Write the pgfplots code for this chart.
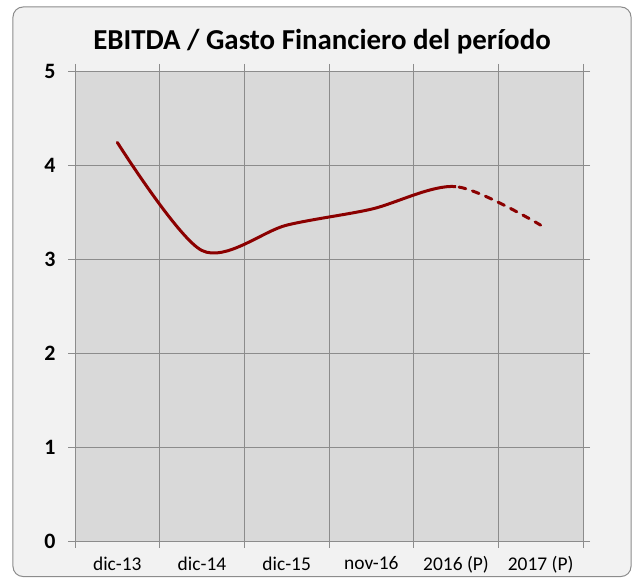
\documentclass[border=0pt]{standalone}
\usepackage{fontspec}
\setmainfont{Carlito}
\usepackage{pgfplots}
\pgfplotsset{compat=1.18}
\definecolor{linered}{HTML}{8B0000}
\definecolor{gridgray}{HTML}{8C8C8C}
\definecolor{plotbg}{HTML}{D9D9D9}
\definecolor{chartbg}{HTML}{F2F2F2}
\definecolor{framegray}{HTML}{8C8C8C}
\begin{document}
\begin{tikzpicture}[x=1bp,y=1bp]
\path[use as bounding box] (-75,-37) rectangle (560,541);
\draw[framegray, fill=chartbg, line width=1bp, rounded corners=10bp] (-62,-35.5) rectangle (556,534);
\begin{axis}[at={(0,0)}, anchor=south west, scale only axis, width=508bp, height=470bp,
  xmin=-0.5, xmax=5.5, ymin=0, ymax=5,
  axis background/.style={fill=plotbg},
  axis line style={gridgray, line width=0.8bp},
  xtick={0,...,5},
  xticklabels={dic-13,dic-14,dic-15,nov-16,2016 (P),2017 (P)},
  minor xtick={-0.5,0.5,1.5,2.5,3.5,4.5,5.5},
  ytick={0,...,5},
  xmajorgrids=false, xminorgrids=true, ymajorgrids=true,
  grid style={gridgray, line width=0.8bp},
  minor grid style={gridgray, line width=0.8bp},
  tick align=outside,
  major tick length=7bp, minor tick length=7bp,
  tick style={gridgray, line width=0.8bp},
  major x tick style={draw=none},
  /pgf/number format/assume math mode=true,
  xticklabel style={font=\fontsize{19.5}{21}\selectfont, text=black, yshift=-5bp},
  yticklabel style={font=\bfseries\fontsize{22}{24}\selectfont, text=black, xshift=-9bp},
]
\begin{scope}
\clip (axis cs:-1,-1) rectangle (axis cs:4,6);
\addplot[linered, line width=3bp, smooth, tension=0.5, line cap=round] coordinates {(0,4.24)(1,3.09)(2,3.36)(3,3.53)(4,3.77)(5,3.36)};
\end{scope}
\begin{scope}
\clip (axis cs:4,-1) rectangle (axis cs:6,6);
\addplot[linered, line width=3bp, smooth, tension=0.5, line cap=round, dash pattern=on 7bp off 7bp] coordinates {(0,4.24)(1,3.09)(2,3.36)(3,3.53)(4,3.77)(5,3.36)};
\end{scope}
\end{axis}
\node[anchor=base, font=\bfseries\fontsize{29}{33}\selectfont, inner sep=0] at (247,491) {EBITDA / Gasto Financiero del período};
\end{tikzpicture}
\end{document}
